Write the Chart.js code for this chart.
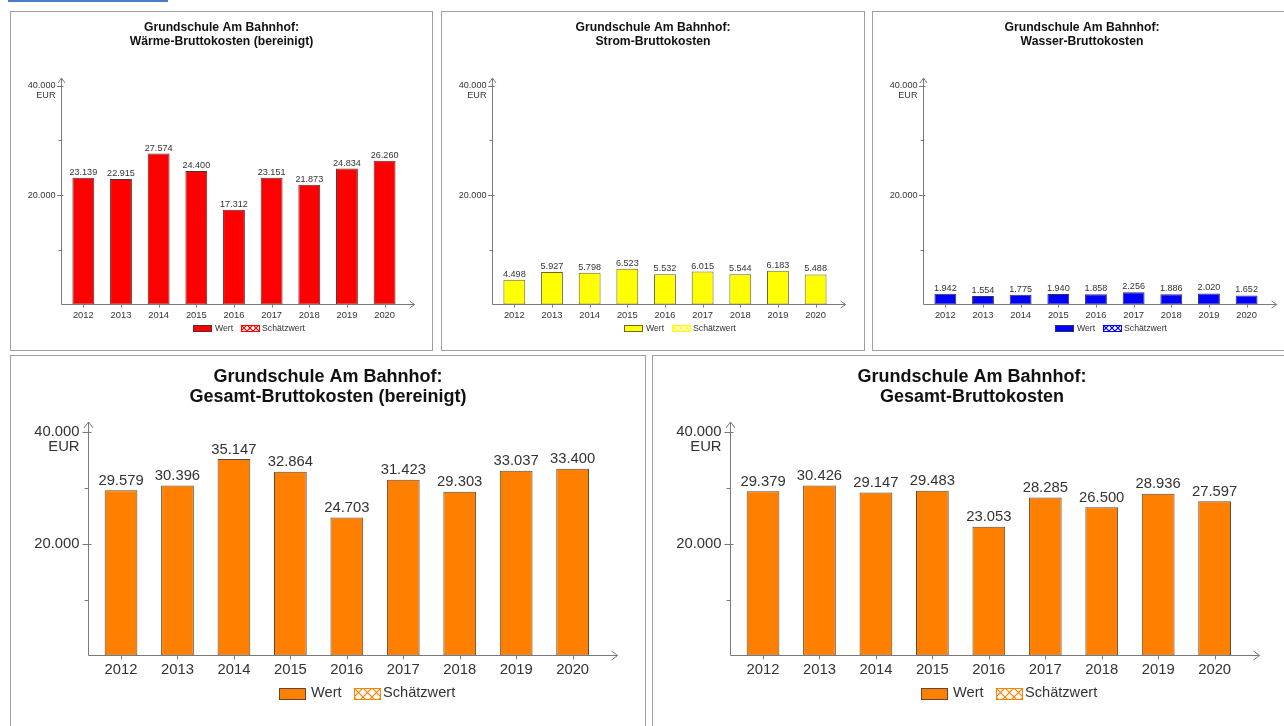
<!DOCTYPE html>
<html>
<head>
<meta charset="utf-8">
<title>Grundschule Am Bahnhof – Bruttokosten</title>
<script src="https://cdn.jsdelivr.net/npm/chart.js@4/dist/chart.umd.min.js"></script>
<style>
  html, body { margin: 0; padding: 0; background: #fff; width: 1284px; height: 726px; overflow: hidden; position: relative; }
  .panel { position: absolute; box-sizing: border-box; border: 1px solid #a0a0a0; background: #fff; }
  canvas { position: absolute; }
  .navlink { position: absolute; left: 8px; top: 0; width: 160px; height: 2px; background: #4a7bcf; }
</style>
</head>
<body>
<div class="navlink"></div>
<script>
Chart.defaults.font.family = "'Liberation Sans', Arial, Helvetica, sans-serif";
const FONT = "'Liberation Sans', Arial, Helvetica, sans-serif";

// Data
const years = ['2012', '2013', '2014', '2015', '2016', '2017', '2018', '2019', '2020'];
const waermeBereinigt = [23139, 22915, 27574, 24400, 17312, 23151, 21873, 24834, 26260];
const stromKosten = [4498, 5927, 5798, 6523, 5532, 6015, 5544, 6183, 5488];
const wasserKosten = [1942, 1554, 1775, 1940, 1858, 2256, 1886, 2020, 1652];
const gesamtBereinigt = [29579, 30396, 35147, 32864, 24703, 31423, 29303, 33037, 33400];
const gesamtKosten = [29379, 30426, 29147, 29483, 23053, 28285, 26500, 28936, 27597];
const yLabelTicks = [20000, 40000];
const yMinorTicks = [10000, 30000];
const unitLabel = 'EUR';
const legendLabels = ['Wert', 'Schätzwert'];
const schoolName = 'Grundschule Am Bahnhof:';

// Geometry for the small (top row) and large (bottom row) chart panels, in page pixels
const smallGeo = {
  axisDx: 51.7, catDx: 54.5, step: 37.66, arrowPast: 11.2,
  zeroY: 304.5, topY: 78, ppk: 5.475,
  titleSize: 12.2, titleY1: 27.5, titleLH: 14.5,
  labelSize: 9.1, xLabelSize: 9.4, xLabelDy: 10.5, xH: 20,
  valueGap: 5.5, yLabelGap: 6, eurDy: 10,
  majL: 4.5, majR: 2, minL: 3, xTick: 3, arrowW: 3.5, arrowL: 5,
  legY: 328.3, legFont: 8.7, boxW: 18, boxH: 6, gapBT: 4, gapItems: 8, legDx: 128.7, patternSize: 6
};
const bigGeo = {
  axisDx: 78, catDx: 82.8, step: 56.45, arrowPast: 16.7,
  zeroY: 655.5, topY: 422, ppk: 5.59,
  titleSize: 18, titleY1: 376.7, titleLH: 20.5,
  labelSize: 14.8, xLabelSize: 14.8, xLabelDy: 14.5, xH: 30,
  valueGap: 9.5, yLabelGap: 9, eurDy: 15.5,
  majL: 6, majR: 3, minL: 4, xTick: 4, arrowW: 4.5, arrowL: 6,
  legY: 693, legFont: 14.6, boxW: 26, boxH: 10.5, gapBT: 6, gapItems: 12.5, legDx: 185.8, patternSize: 9
};

const charts = [
  { panel: [10, 11, 423, 340], geo: smallGeo, subtitle: 'Wärme-Bruttokosten (bereinigt)', values: waermeBereinigt, color: '#ff0000', edge: '#553030' },
  { panel: [441, 11, 424, 340], geo: smallGeo, subtitle: 'Strom-Bruttokosten', values: stromKosten, color: '#ffff00', edge: '#66663c' },
  { panel: [872, 11, 420, 340], geo: smallGeo, subtitle: 'Wasser-Bruttokosten', values: wasserKosten, color: '#0000ff', edge: '#30305a' },
  { panel: [10, 355, 636, 380], geo: bigGeo, subtitle: 'Gesamt-Bruttokosten (bereinigt)', values: gesamtBereinigt, color: '#ff8000', edge: '#604838' },
  { panel: [652, 355, 640, 380], geo: bigGeo, subtitle: 'Gesamt-Bruttokosten', values: gesamtKosten, color: '#ff8000', edge: '#604838' }
];

function fmt(v) {
  return String(v).replace(/\B(?=(\d{3})+(?!\d))/g, '.');
}

function hatchPattern(ctx, color, size) {
  const c = document.createElement('canvas');
  c.width = size; c.height = size;
  const x = c.getContext('2d');
  x.fillStyle = '#fff';
  x.fillRect(0, 0, size, size);
  x.strokeStyle = color;
  x.lineWidth = 1.2;
  x.beginPath();
  x.moveTo(0, 0); x.lineTo(size, size);
  x.moveTo(size, 0); x.lineTo(0, size);
  x.stroke();
  return ctx.createPattern(c, 'repeat');
}

// Axis arrows, tick marks, value labels and legend
function makeDecor(spec) {
  const g = spec.geo;
  return {
    id: 'costDecor',
    afterDraw(chart) {
      const ctx = chart.ctx;
      const ys = chart.scales.y, xs = chart.scales.x;
      const axX = Math.floor(g.axisDx) + 0.5;
      const zero = ys.getPixelForValue(0);
      const top = ys.getPixelForValue(ys.max);
      const xEnd = xs.right + g.arrowPast;

      ctx.save();
      ctx.strokeStyle = '#7a7a7a';
      ctx.lineWidth = 1;
      ctx.beginPath();
      ctx.moveTo(axX, zero); ctx.lineTo(axX, top);
      ctx.moveTo(axX - g.arrowW, top + g.arrowL); ctx.lineTo(axX, top); ctx.lineTo(axX + g.arrowW, top + g.arrowL);
      ctx.moveTo(axX, zero); ctx.lineTo(xEnd, zero);
      ctx.moveTo(xEnd - g.arrowL, zero - g.arrowW); ctx.lineTo(xEnd, zero); ctx.lineTo(xEnd - g.arrowL, zero + g.arrowW);
      yLabelTicks.forEach(v => {
        const py = Math.round(ys.getPixelForValue(v)) + 0.5;
        ctx.moveTo(axX - g.majL, py); ctx.lineTo(axX + g.majR, py);
      });
      yMinorTicks.forEach(v => {
        const py = Math.round(ys.getPixelForValue(v)) + 0.5;
        ctx.moveTo(axX - g.minL, py); ctx.lineTo(axX, py);
      });
      years.forEach((_, i) => {
        const px = Math.round(xs.getPixelForTick(i)) + 0.5;
        ctx.moveTo(px, zero); ctx.lineTo(px, zero + g.xTick);
      });
      ctx.stroke();

      // y labels with unit
      ctx.fillStyle = '#333';
      ctx.font = g.labelSize + 'px ' + FONT;
      ctx.textAlign = 'right';
      ctx.textBaseline = 'middle';
      yLabelTicks.forEach(v => {
        ctx.fillText(fmt(v), axX - g.yLabelGap, ys.getPixelForValue(v));
      });
      ctx.fillText(unitLabel, axX - g.yLabelGap, ys.getPixelForValue(Math.max(...yLabelTicks)) + g.eurDy);

      // value labels above bars
      ctx.textAlign = 'center';
      const meta = chart.getDatasetMeta(0);
      meta.data.forEach((bar, i) => {
        ctx.fillText(fmt(spec.values[i]), bar.x, bar.y - g.valueGap);
      });

      // legend
      const ly = g.legY - spec.panel[1];
      const boxTop = Math.round(ly - g.boxH / 2);
      const boxH = Math.round(g.boxH);
      let lx = Math.round(xs.left + g.legDx);
      ctx.font = g.legFont + 'px ' + FONT;
      ctx.textAlign = 'left';
      ctx.fillStyle = spec.color;
      ctx.fillRect(lx, boxTop, g.boxW, boxH);
      ctx.strokeStyle = spec.edge;
      ctx.strokeRect(lx + 0.5, boxTop + 0.5, g.boxW, boxH);
      lx += g.boxW + g.gapBT;
      ctx.fillStyle = '#333';
      ctx.fillText(legendLabels[0], lx, ly);
      lx = Math.round(lx + ctx.measureText(legendLabels[0]).width + g.gapItems);
      ctx.save();
      ctx.translate(lx, boxTop);
      ctx.fillStyle = hatchPattern(ctx, spec.color, g.patternSize);
      ctx.fillRect(0, 0, g.boxW, boxH);
      ctx.restore();
      ctx.strokeStyle = spec.color;
      ctx.strokeRect(lx + 0.5, boxTop + 0.5, g.boxW, boxH);
      lx += g.boxW + 3;
      ctx.fillStyle = '#333';
      ctx.fillText(legendLabels[1], lx, ly);
      ctx.restore();
    }
  };
}

charts.forEach(spec => {
  const [px, py, pw, ph] = spec.panel;
  const g = spec.geo;

  const frame = document.createElement('div');
  frame.className = 'panel';
  Object.assign(frame.style, { left: px + 'px', top: py + 'px', width: pw + 'px', height: ph + 'px' });
  document.body.appendChild(frame);

  const canvas = document.createElement('canvas');
  canvas.width = pw; canvas.height = ph;
  Object.assign(canvas.style, { left: px + 'px', top: py + 'px', width: pw + 'px', height: ph + 'px' });
  document.body.appendChild(canvas);

  const padL = g.catDx;
  const padR = pw - (g.catDx + years.length * g.step);
  const areaTop = g.topY - py;
  const areaBottom = g.zeroY - py;
  const titleTop = g.titleY1 - g.titleLH / 2 - py;
  const titleBottom = areaTop - titleTop - 2 * g.titleLH;
  const yMax = (g.zeroY - g.topY) / g.ppk * 1000;

  new Chart(canvas, {
    type: 'bar',
    data: {
      labels: years,
      datasets: [{
        label: legendLabels[0],
        data: spec.values,
        backgroundColor: spec.color,
        borderColor: spec.edge,
        borderWidth: 1,
        borderSkipped: false,
        barPercentage: 0.58,
        categoryPercentage: 1
      }]
    },
    options: {
      responsive: false,
      animation: false,
      events: [],
      layout: { padding: { top: 0, left: 0, right: 0, bottom: ph - areaBottom - g.xH } },
      plugins: {
        legend: { display: false },
        tooltip: { enabled: false },
        title: {
          display: true,
          text: [schoolName, spec.subtitle],
          color: '#111',
          font: { size: g.titleSize, weight: 'bold', lineHeight: g.titleLH / g.titleSize },
          padding: { top: titleTop, bottom: titleBottom }
        }
      },
      scales: {
        x: {
          offset: true,
          grid: { display: false, drawTicks: false },
          border: { display: false },
          ticks: {
            color: '#333',
            font: { size: g.xLabelSize },
            padding: g.xLabelDy - 0.6 * g.xLabelSize,
            maxRotation: 0,
            autoSkip: false
          },
          afterFit: s => { s.height = g.xH; }
        },
        y: {
          position: 'left',
          min: 0,
          max: yMax,
          grid: { display: false, drawTicks: false },
          border: { display: false },
          ticks: { display: false },
          afterFit: s => { s.width = padL; }
        },
        yRight: {
          type: 'linear',
          position: 'right',
          grid: { display: false, drawTicks: false },
          border: { display: false },
          ticks: { display: false },
          afterFit: s => { s.width = padR; }
        }
      }
    },
    plugins: [makeDecor(spec)]
  });
});
</script>
</body>
</html>
